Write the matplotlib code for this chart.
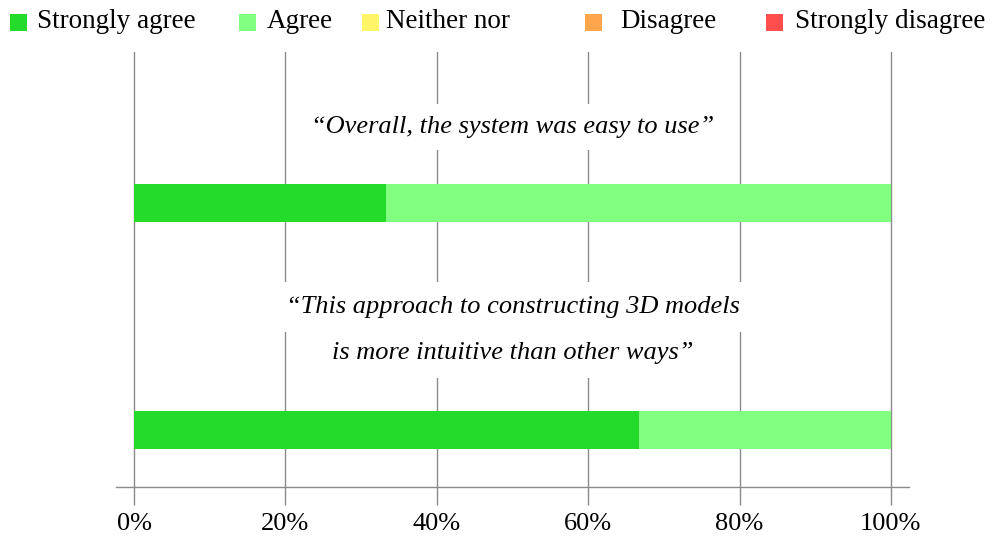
import matplotlib
matplotlib.use("Agg")
import matplotlib.pyplot as plt
from matplotlib.patches import Rectangle

plt.rcParams['font.family'] = ['Liberation Serif', 'DejaVu Serif']

# Survey responses (% of participants)
categories = ["Strongly agree", "Agree", "Neither nor", "Disagree", "Strongly disagree"]
colors = ["#24da2a", "#80ff80", "#fff566", "#ffa64d", "#ff4d4d"]
questions = [
    "\u201cOverall, the system was easy to use\u201d",
    "\u201cThis approach to constructing 3D models\nis more intuitive than other ways\u201d",
]
responses = {
    "Strongly agree": [33.3, 66.7],
    "Agree": [66.7, 33.3],
    "Neither nor": [0.0, 0.0],
    "Disagree": [0.0, 0.0],
    "Strongly disagree": [0.0, 0.0],
}
xticks = [0, 20, 40, 60, 80, 100]
xticklabels = ["0%", "20%", "40%", "60%", "80%", "100%"]

fig = plt.figure(figsize=(10.05, 5.38), dpi=100)
ax = fig.add_axes([116 / 1005, 1 - 487 / 538, (909 - 116) / 1005, (487 - 52) / 538])

ypos = [1, 0]
bar_h = 0.167
for i, y in enumerate(ypos):
    left = 0.0
    for cat, col in zip(categories, colors):
        v = responses[cat][i]
        if v > 0:
            ax.barh(y, v, left=left, height=bar_h, color=col, edgecolor='none', zorder=3)
        left += v

ax.set_xlim(-2.4, 102.4)
ax.set_ylim(-0.251, 1.665)
ax.set_xticks(xticks)
ax.set_xticklabels(xticklabels, fontsize=19)
ax.set_yticks([])
for s in ['top', 'left', 'right']:
    ax.spines[s].set_visible(False)
ax.spines['bottom'].set_color('#8a8a8a')
ax.spines['bottom'].set_linewidth(1.0)
ax.tick_params(axis='x', direction='out', length=13, width=1.0, color='#8a8a8a', pad=6)
ax.xaxis.grid(True, color='#8a8a8a', linewidth=1.0, zorder=1)
ax.set_axisbelow(True)

# Question captions, one white box per line
ax.text(50, 1.335, questions[0], ha='center', va='center', fontsize=19,
        style='italic', bbox=dict(facecolor='white', edgecolor='none', pad=9), zorder=4)
line_y = [0.542, 0.339]
for ly, line in zip(line_y, questions[1].split("\n")):
    ax.text(50, ly, line, ha='center', va='center', fontsize=19,
            style='italic', bbox=dict(facecolor='white', edgecolor='none', pad=10),
            zorder=4)

# Legend row along the top edge
sq_x = [10, 239, 362, 585, 766]
lab_x = [37, 267, 386, 620, 795]
for cat, col, sx, lx in zip(categories, colors, sq_x, lab_x):
    fig.patches.append(Rectangle((sx / 1005, 1 - 31 / 538), 17 / 1005, 17 / 538,
                                 transform=fig.transFigure, facecolor=col,
                                 edgecolor='none'))
    fig.text(lx / 1005, 1 - 22 / 538, cat, ha='left', va='center', fontsize=19.5)

fig.savefig("out.png", dpi=100, facecolor='white')
